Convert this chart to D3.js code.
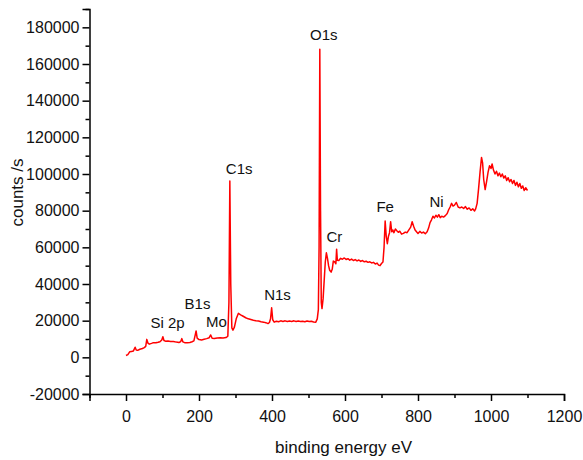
<!DOCTYPE html>
<html>
<head>
<meta charset="utf-8">
<script src="https://cdn.jsdelivr.net/npm/d3@7"></script>
<style>
  html, body { margin: 0; padding: 0; background: #fff; }
  svg { display: block; font-family: "Liberation Sans", Arial, Helvetica, sans-serif; }
</style>
</head>
<body>
<svg id="chart" width="583" height="460"></svg>
<script>
// ---- data ----
const energy = [0,5,10,15,20,25,28,32,38,45,50,54,57,60,64,70,75,82,88,93,98,101,104,108,115,122,130,138,145,150,153,156,162,168,175,181,186,190,192,195,200,207,214,221,228,232,236,242,250,258,266,274,279,282,284.5,287,290,293,297,302,308,314,321,328,335,342,349,356,363,370,377,383,389,393,396,399,402,406,412,418,424,430,436,442,448,454,460,466,472,478,484,490,496,502,508,514,520,524,527,529,531,533,535,537,540,543,546,549,552,555,558,562,565,568,572,575,577,579,583,588,593,598,603,608,613,618,623,628,633,638,643,648,653,658,663,668,673,678,683,688,692,696,700,704,707,710,713,716,719,722,725,728,731,734,738,742,746,750,755,760,765,770,775,780,784,788,792,796,800,805,810,815,820,825,829,833,837,841,845,849,853,857,861,865,870,875,880,884,888,892,896,900,905,910,915,920,925,930,935,940,945,950,955,958,962,966,970,974,977,980,984,988,992,996,1000,1003,1007,1011,1015,1019,1023,1027,1031,1035,1039,1043,1047,1051,1055,1059,1063,1067,1071,1075,1079,1083,1087,1091,1095,1100];
const counts = [1000,1500,3000,3200,3400,5500,4000,3800,4400,4800,5300,6000,9800,7800,7200,7600,8000,7900,8200,8500,9500,11200,9200,8800,8900,8700,8600,8300,8100,8600,10200,8400,7900,8000,8100,8500,9000,12500,14400,10500,9700,9500,9900,10200,10700,12200,10400,10300,10600,10700,10600,10800,11500,30000,96200,40000,16000,14800,16500,21000,24000,23200,22400,21600,21000,20600,20200,19900,19800,19400,19200,18900,18400,19000,21000,27000,20500,19200,19700,19400,19900,19600,19900,19500,19800,19600,19900,19500,19800,19600,19700,19400,19800,19500,19700,19300,19200,21000,26000,60000,168000,80000,30000,26600,32000,42000,52000,57000,54000,50000,47500,46500,48000,52500,52000,51000,59000,53000,52800,54000,53500,54200,53400,53800,53000,53600,52800,53300,52600,53100,52300,52800,52100,52400,51800,52100,51500,51800,50900,51400,50300,50000,51200,52000,60000,74400,66000,62000,66000,68000,74000,68500,69500,68000,70000,69000,68200,68800,67200,67600,68300,68000,69500,71000,74000,71500,69500,68500,67600,68700,67800,68300,67400,68500,70500,73500,75000,77000,76000,77500,76500,77800,76200,77000,76500,77300,78500,80500,82000,84000,82500,83000,84500,82000,81500,82000,81200,82200,80800,81500,80200,81000,79800,81000,84000,92000,101000,109000,106000,97000,91500,96000,101000,104500,103000,105500,102000,100000,101500,99000,100500,98500,100000,97800,99000,96500,98000,95800,97000,94800,96500,93800,95500,93000,94800,92200,93500,91000,92500,91000];

const xTicks = [0,200,400,600,800,1000,1200];
const xTickLabels = ["0","200","400","600","800","1000","1200"];
const yTicks = [-20000,0,20000,40000,60000,80000,100000,120000,140000,160000,180000];
const yTickLabels = ["-20000","0","20000","40000","60000","80000","100000","120000","140000","160000","180000"];
const xMinorTicks = [-100,100,300,500,700,900,1100];
const yMinorTicks = [-10000,10000,30000,50000,70000,90000,110000,130000,150000,170000,190000];

const peakLabels = ["O1s","C1s","Si 2p","B1s","Mo","N1s","Cr","Fe","Ni"];
const peakLabelEnergy = [542,310,114,196,248,415,571,710,851];
const peakLabelCounts = [173000,99900,15800,26200,16400,31100,62800,79100,81900];

const xTitle = "binding energy eV";
const yTitle = "counts /s";

// ---- drawing ----
const svg = d3.select("#chart");
const x = d3.scaleLinear().domain([-100, 1200]).range([89.5, 564]);
const y = d3.scaleLinear().domain([-20000, 190000]).range([394, 9]);

const data = energy.map((e, i) => ({ e: e, c: counts[i] }));

// spectrum
svg.append("path")
  .datum(data)
  .attr("fill", "none")
  .attr("stroke", "#ff0000")
  .attr("stroke-width", 1.5)
  .attr("stroke-linejoin", "round")
  .attr("d", d3.line().x(d => x(d.e)).y(d => y(d.c)));

// x axis
const xAxisG = svg.append("g").attr("transform", `translate(0,${y(-20000)})`);
xAxisG.call(d3.axisBottom(x).tickValues(xTicks).tickSize(7).tickPadding(10)
  .tickFormat((d, i) => xTickLabels[i]));
xAxisG.append("g").call(d3.axisBottom(x).tickValues(xMinorTicks).tickSize(4).tickFormat(""))
  .select(".domain").remove();

// y axis
const yAxisG = svg.append("g").attr("transform", `translate(${x(-100)},0)`);
yAxisG.call(d3.axisLeft(y).tickValues(yTicks).tickSize(7).tickPadding(3)
  .tickFormat((d, i) => yTickLabels[i]));
yAxisG.append("g").call(d3.axisLeft(y).tickValues(yMinorTicks).tickSize(4).tickFormat(""))
  .select(".domain").remove();

svg.selectAll(".domain").attr("stroke", "#000").attr("stroke-width", 1.5);
svg.selectAll(".tick line").attr("stroke", "#000").attr("stroke-width", 1.5);
svg.selectAll(".tick text").attr("font-size", "16px").attr("fill", "#111")
  .attr("font-family", "'Liberation Sans', Arial, sans-serif");

// axis titles
svg.append("text")
  .attr("x", 343.5).attr("y", 453)
  .attr("text-anchor", "middle")
  .attr("font-size", "17px").attr("fill", "#111")
  .text(xTitle);
svg.append("text")
  .attr("transform", "translate(23,192.5) rotate(-90)")
  .attr("text-anchor", "middle")
  .attr("font-size", "17px").attr("fill", "#111")
  .text(yTitle);

// peak labels
svg.append("g").selectAll("text")
  .data(peakLabels)
  .join("text")
  .attr("x", (d, i) => x(peakLabelEnergy[i]))
  .attr("y", (d, i) => y(peakLabelCounts[i]))
  .attr("text-anchor", "middle")
  .attr("font-size", "15px")
  .attr("fill", "#111")
  .text(d => d);
</script>
</body>
</html>
